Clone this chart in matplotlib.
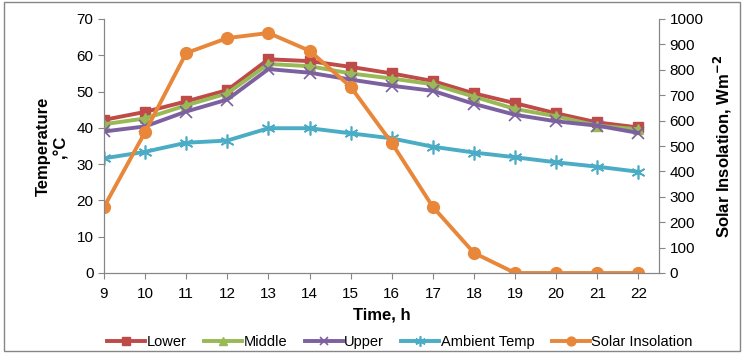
import matplotlib
matplotlib.use("Agg")
import matplotlib.pyplot as plt
from matplotlib.patches import Rectangle

hours = [9, 10, 11, 12, 13, 14, 15, 16, 17, 18, 19, 20, 21, 22]
lower = [42.2, 44.4, 47.3, 50.4, 58.9, 58.4, 56.8, 55.0, 52.9, 49.5, 46.8, 44.0, 41.5, 40.1]
middle = [41.0, 42.6, 46.2, 49.5, 57.6, 57.0, 55.0, 53.6, 52.0, 48.6, 45.2, 43.2, 40.6, 39.6]
upper = [39.0, 40.4, 44.5, 47.8, 56.2, 55.2, 53.3, 51.6, 50.2, 46.6, 43.6, 41.8, 40.6, 38.6]
ambient = [31.6, 33.4, 35.9, 36.5, 39.9, 39.9, 38.5, 37.1, 34.8, 33.2, 31.9, 30.5, 29.3, 27.9]
solar = [260, 555, 866, 925, 945, 875, 733, 512, 260, 79, 0, 0, 0, 0]

plt.rcParams['font.family'] = ['Liberation Sans', 'DejaVu Sans']

fig = plt.figure(figsize=(7.44, 3.56), dpi=100)
ax = fig.add_axes([104/744, 1-273/356, (659-104)/744, (273-19)/356])
ax2 = ax.twinx()

c_low, c_mid, c_up, c_amb, c_sol = '#BE4B48', '#98B954', '#7D60A0', '#4BACC6', '#E8873A'
lw = 2.8
l1, = ax.plot(hours, lower, color=c_low, lw=lw, marker='s', ms=7.5, label='Lower')
l2, = ax.plot(hours, middle, color=c_mid, lw=lw, marker='^', ms=7.5, label='Middle')
l3, = ax.plot(hours, upper, color=c_up, lw=lw, marker='x', ms=8, mew=1.2, label='Upper')
l4, = ax.plot(hours, ambient, color=c_amb, lw=lw, marker=(6, 2, 0), ms=10, mew=1.2, label='Ambient Temp')
l5, = ax2.plot(hours, solar, color=c_sol, lw=lw, marker='o', ms=8.5, label='Solar Insolation')

ax.set_xlim(9, 22.5)
ax.set_ylim(0, 70)
ax2.set_ylim(0, 1000)
ax.set_xticks(hours)
ax.set_yticks(range(0, 71, 10))
ax2.set_yticks(range(0, 1001, 100))

for a in (ax, ax2):
    a.spines['top'].set_visible(False)
    for s in ('left', 'right', 'bottom'):
        a.spines[s].set_color('#868686')
    a.tick_params(axis='both', colors='#868686', labelcolor='black', labelsize=11, length=4)
ax.tick_params(axis='x', pad=6)

ax.set_xlabel('Time, h', fontsize=12, fontweight='bold', labelpad=5)
ax.set_ylabel('Temperature\n,°C', fontsize=12, fontweight='bold', labelpad=6)
ax2.set_ylabel('Solar Insolation, Wm$^{\\mathbf{-2}}$', fontsize=12, fontweight='bold', labelpad=6)

fig.legend(handles=[l1, l2, l3, l4, l5], loc='center', bbox_to_anchor=(400/744, 1-342/356),
           ncol=5, frameon=False, fontsize=10.5, handlelength=2.6, columnspacing=1.2,
           handletextpad=0.1, markerscale=0.75, borderpad=0.1)

fig.patches.append(Rectangle((0.006, 0.014), 0.988, 0.98, transform=fig.transFigure,
                             fill=False, edgecolor='#868686', lw=1))

fig.savefig('out.png', dpi=100)
